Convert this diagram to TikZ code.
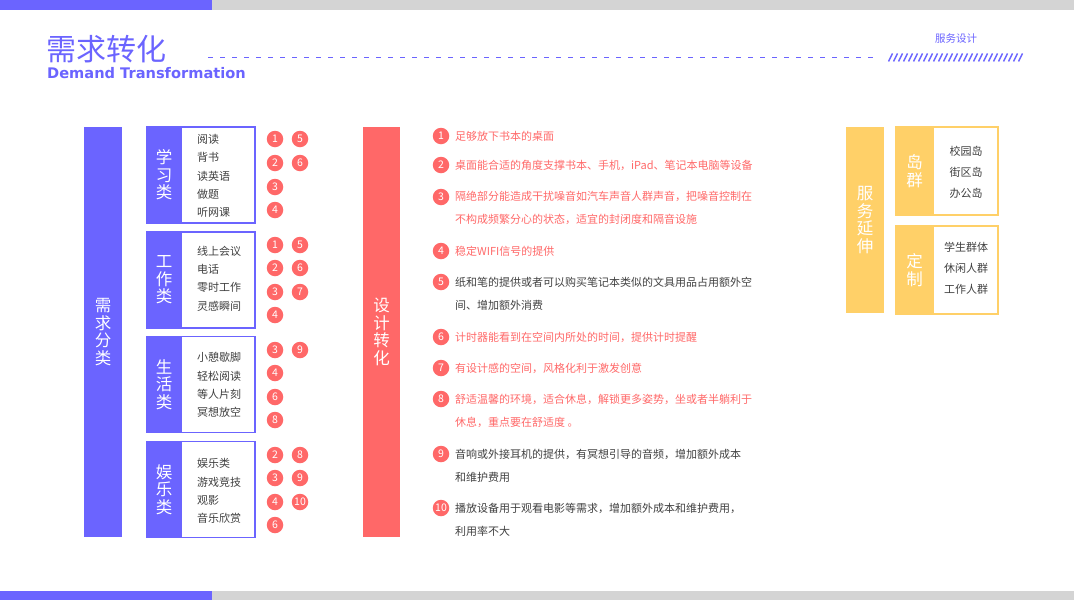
\documentclass[tikz,border=0pt]{standalone}
\usepackage{fontspec}
\setmainfont{Noto Sans CJK SC}
\newfontfamily\latinbold{DejaVu Sans}
\usetikzlibrary{positioning}
\definecolor{zi}{HTML}{6B64FF}
\definecolor{hong}{HTML}{FF6868}
\definecolor{huang}{HTML}{FFD068}
\definecolor{hui}{HTML}{D4D4D4}
\definecolor{wenzi}{HTML}{404040}

\begin{document}
\begin{tikzpicture}[x=1pt,y=-1pt]
	\tikzstyle{tiao}=[inner sep=0pt,text=white,align=center,font=\fontsize{16.5}{17.5}\selectfont];
	\tikzstyle{kuang}=[draw,line width=1.2pt,fill=white,inner sep=0pt];
	\tikzstyle{xiang}=[inner sep=0pt,align=left,text=wenzi,font=\fontsize{11}{18.3}\selectfont];
	\tikzstyle{hao}=[circle,fill=hong,text=white,minimum size=16.5pt,inner sep=0pt,font=\fontsize{10.5}{11}\selectfont];
	\tikzstyle{wen}=[inner sep=0pt,align=left,anchor=west,font=\fontsize{11}{23}\selectfont];
	\useasboundingbox (0,0) rectangle (1074,600);
	%% top and bottom bands
	\fill[zi]  (0,0)     rectangle (212,9.5);
	\fill[hui] (212,0)   rectangle (1074,9.5);
	\fill[zi]  (0,591)   rectangle (212,600);
	\fill[hui] (212,591) rectangle (1074,600);
	%% title
	\node[anchor=west,inner sep=0pt,text=zi,font=\fontsize{30}{31}\selectfont] (biaoti) at (46,49.5) {需求转化};
	\node[anchor=west,inner sep=0pt,text=zi,font=\latinbold\bfseries\fontsize{14.6}{16}\selectfont] (yingwen) at (47,73) {Demand Transformation};
	\draw[zi,line width=1pt,dash pattern=on 5pt off 7pt] (208,57) -- (878,57);
	\node[inner sep=0pt,text=zi,font=\fontsize{10.5}{12}\selectfont] (fuwu) at (956,39) {服务设计};
	\foreach \i in {0,...,26} \draw[zi,line width=1.5pt] (888.5+5*\i,61.5) -- (892.5+5*\i,53.5);
	%% demand classes
	\node[tiao,fill=zi,minimum width=38pt,minimum height=410pt] (xuqiu) at (103,332) {需\\求\\分\\类};
	\node[kuang,draw=zi,minimum width=108pt,minimum height=96pt] (xuexi) at (201,175) {};
	\node[tiao,fill=zi,minimum width=35pt,minimum height=96pt,anchor=west] (xuexib) at (xuexi.west) {学\\习\\类};
	\node[xiang,anchor=west] (xuexil) at (197,176) {阅读\\背书\\读英语\\做题\\听网课};
	\node[kuang,draw=zi,minimum width=108pt,minimum height=96pt] (gongzuo) at (201,280) {};
	\node[tiao,fill=zi,minimum width=35pt,minimum height=96pt,anchor=west] (gongzuob) at (gongzuo.west) {工\\作\\类};
	\node[xiang,anchor=west] (gongzuol) at (197,278.5) {线上会议\\电话\\零时工作\\灵感瞬间};
	\node[kuang,draw=zi,minimum width=108pt,minimum height=96pt] (shenghuo) at (201,384.5) {};
	\node[tiao,fill=zi,minimum width=35pt,minimum height=96pt,anchor=west] (shenghuob) at (shenghuo.west) {生\\活\\类};
	\node[xiang,anchor=west] (shenghuol) at (197,385) {小憩歇脚\\轻松阅读\\等人片刻\\冥想放空};
	\node[kuang,draw=zi,minimum width=108pt,minimum height=96pt] (yule) at (201,489.5) {};
	\node[tiao,fill=zi,minimum width=35pt,minimum height=96pt,anchor=west] (yuleb) at (yule.west) {娱\\乐\\类};
	\node[xiang,anchor=west] (yulel) at (197,491) {娱乐类\\游戏竞技\\观影\\音乐欣赏};
	%% numbers of the classes
	\node[hao] (x1) at (275,139) {1}; \node[hao] (x5) at (300,139) {5};
	\node[hao] (x2) at (275,163) {2}; \node[hao] (x6) at (300,163) {6};
	\node[hao] (x3) at (275,187) {3};
	\node[hao] (x4) at (275,210) {4};
	\node[hao] (g1) at (275,245) {1}; \node[hao] (g5) at (300,245) {5};
	\node[hao] (g2) at (275,268) {2}; \node[hao] (g6) at (300,268) {6};
	\node[hao] (g3) at (275,292) {3}; \node[hao] (g7) at (300,292) {7};
	\node[hao] (g4) at (275,315) {4};
	\node[hao] (s3) at (275,350) {3}; \node[hao] (s9) at (300,350) {9};
	\node[hao] (s4) at (275,373) {4};
	\node[hao] (s6) at (275,397) {6};
	\node[hao] (s8) at (275,420) {8};
	\node[hao] (y2) at (275,455) {2}; \node[hao] (y8) at (300,455) {8};
	\node[hao] (y3) at (275,478) {3}; \node[hao] (y9) at (300,478) {9};
	\node[hao] (y4) at (275,502) {4}; \node[hao] (y10) at (300,502) {10};
	\node[hao] (y6) at (275,525) {6};
	%% design transformation
	\node[tiao,fill=hong,minimum width=37pt,minimum height=410pt] (sheji) at (381.5,332) {设\\计\\转\\化};
	\node[hao] (d1) at (441,136) {1};
	\node[wen,text=hong] (t1) at (455,136) {足够放下书本的桌面};
	\node[hao] (d2) at (441,165) {2};
	\node[wen,text=hong] (t2) at (455,165) {桌面能合适的角度支撑书本、手机，iPad、笔记本电脑等设备};
	\node[hao] (d3) at (441,197) {3};
	\node[wen,text=hong] (t3) at (455,208) {隔绝部分能造成干扰噪音如汽车声音人群声音，把噪音控制在\\不构成频繁分心的状态，适宜的封闭度和隔音设施};
	\node[hao] (d4) at (441,251) {4};
	\node[wen,text=hong] (t4) at (455,251) {稳定WIFI信号的提供};
	\node[hao] (d5) at (441,282) {5};
	\node[wen,text=wenzi] (t5) at (455,293.5) {纸和笔的提供或者可以购买笔记本类似的文具用品占用额外空\\间、增加额外消费};
	\node[hao] (d6) at (441,337) {6};
	\node[wen,text=hong] (t6) at (455,337) {计时器能看到在空间内所处的时间，提供计时提醒};
	\node[hao] (d7) at (441,368) {7};
	\node[wen,text=hong] (t7) at (455,368) {有设计感的空间，风格化利于激发创意};
	\node[hao] (d8) at (441,399) {8};
	\node[wen,text=hong] (t8) at (455,410.5) {舒适温馨的环境，适合休息，解锁更多姿势，坐或者半躺利于\\休息，重点要在舒适度\ 。};
	\node[hao] (d9) at (441,454) {9};
	\node[wen,text=wenzi] (t9) at (455,465.5) {音响或外接耳机的提供，有冥想引导的音频，增加额外成本\\和维护费用};
	\node[hao] (d10) at (441,508) {10};
	\node[wen,text=wenzi] (t10) at (455,519.5) {播放设备用于观看电影等需求，增加额外成本和维护费用，\\利用率不大};
	%% service extension
	\node[tiao,fill=huang,minimum width=38pt,minimum height=186pt] (yanshen) at (865,220) {服\\务\\延\\伸};
	\node[kuang,draw=huang,minimum width=102pt,minimum height=88pt] (daoqun) at (947,171) {};
	\node[tiao,fill=huang,minimum width=38pt,minimum height=88pt,anchor=west] (daoqunb) at (daoqun.west) {岛\\群};
	\node[xiang,align=center,font=\fontsize{11}{21}\selectfont] (daoqunl) at (966,172) {校园岛\\街区岛\\办公岛};
	\node[kuang,draw=huang,minimum width=102pt,minimum height=88pt] (dingzhi) at (947,270) {};
	\node[tiao,fill=huang,minimum width=38pt,minimum height=88pt,anchor=west] (dingzhib) at (dingzhi.west) {定\\制};
	\node[xiang,align=center,font=\fontsize{11}{21}\selectfont] (dingzhil) at (966,268) {学生群体\\休闲人群\\工作人群};
\end{tikzpicture}
\end{document}
